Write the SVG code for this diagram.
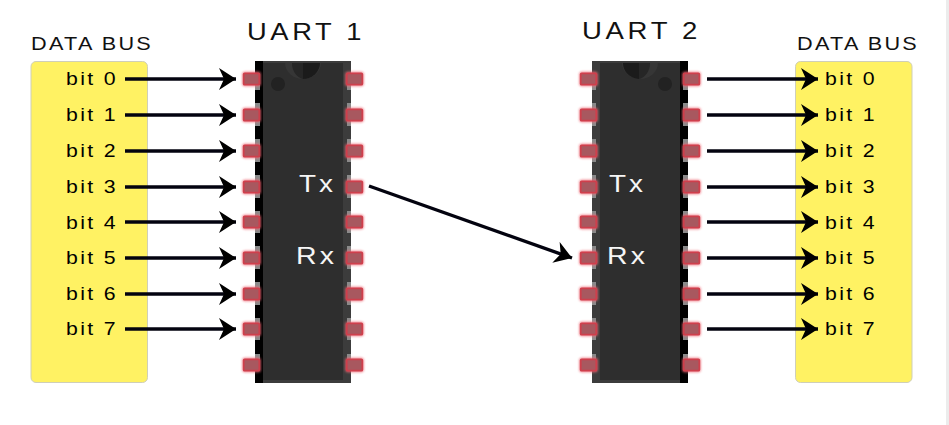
<svg xmlns="http://www.w3.org/2000/svg" width="949" height="425" viewBox="0 0 949 425">
  <style>
    text { font-family: "Liberation Sans", Arial, sans-serif; }
    .bus { fill: #fff263; stroke: #cfcfb8; stroke-width: 1; }
    .bit { font-size: 18px; letter-spacing: 2px; fill: #000; }
    .bus-title { font-size: 18px; letter-spacing: 1.9px; fill: #111; }
    .uart { font-size: 24px; letter-spacing: 3.2px; fill: #111; }
    .sig { font-size: 24px; letter-spacing: 2.6px; fill: #f6f6f6; }
    .wire { stroke: #03030f; stroke-width: 3.4; fill: none; marker-end: url(#head); }
    .pad { fill: #a8585f; stroke: #cf3f4c; stroke-width: 1.8; }
    .halo { fill: #ee6c78; opacity: .7; filter: url(#glow); }
  </style>
  <defs>
    <marker id="head" markerUnits="userSpaceOnUse" markerWidth="20" markerHeight="24" refX="17" refY="11" orient="auto">
      <path d="M0 0 L17 11 L0 22 L5 11 Z" fill="#000"/>
    </marker>
    <filter id="glow" x="-30%" y="-40%" width="160%" height="180%">
      <feGaussianBlur stdDeviation="1"/>
    </filter>
    <g id="pad">
      <rect class="halo" x="-9.500" y="-7.500" width="19" height="15" rx="3"/>
      <rect class="pad" x="-7.800" y="-5.700" width="15.600" height="11.400" rx="1"/>
    </g>
  </defs>

  <rect width="949" height="425" fill="#fff"/>
  <rect x="946" y="0" width="3" height="425" fill="#ececec"/>

  <g id="bus-left">
    <rect class="bus" x="31" y="61.500" width="116.500" height="321" rx="5"/>
    <text class="bus-title" x="31" y="50" textLength="122" lengthAdjust="spacingAndGlyphs">DATA BUS</text>
    <text class="bit" x="66" y="85" textLength="52" lengthAdjust="spacingAndGlyphs">bit 0</text>
    <text class="bit" x="66" y="121" textLength="52" lengthAdjust="spacingAndGlyphs">bit 1</text>
    <text class="bit" x="66" y="157" textLength="52" lengthAdjust="spacingAndGlyphs">bit 2</text>
    <text class="bit" x="66" y="193" textLength="52" lengthAdjust="spacingAndGlyphs">bit 3</text>
    <text class="bit" x="66" y="229" textLength="52" lengthAdjust="spacingAndGlyphs">bit 4</text>
    <text class="bit" x="66" y="264" textLength="52" lengthAdjust="spacingAndGlyphs">bit 5</text>
    <text class="bit" x="66" y="300" textLength="52" lengthAdjust="spacingAndGlyphs">bit 6</text>
    <text class="bit" x="66" y="335" textLength="52" lengthAdjust="spacingAndGlyphs">bit 7</text>
  </g>

  <g id="uart-1">
    <text class="uart" x="247" y="40" textLength="118" lengthAdjust="spacingAndGlyphs">UART 1</text>
    <rect x="255" y="61" width="96" height="322" fill="#000"/>
    <rect x="263" y="61" width="88" height="322" fill="#3c3c3c"/>
    <rect x="263" y="63" width="80" height="317" fill="#2e2e2e"/>
    <!-- keyway notch at the top edge -->
    <path d="M285 63 A18 16 0 0 0 321 63 Z" fill="#363636"/>
    <path d="M292 63 A14 16 0 0 0 303 79 L303 63 Z" fill="#262626"/>
    <path d="M303 63 L303 79 A17 16 0 0 0 320 63 Z" fill="#1b1b1b"/>
    <circle cx="278" cy="84" r="7" fill="#222"/>
    <g fill="#8a8a8a">
      <rect x="255" y="85" width="5" height="5"/><rect x="255" y="103" width="5" height="7"/>
      <rect x="255" y="121" width="5" height="5"/><rect x="255" y="139" width="5" height="7"/>
      <rect x="255" y="157" width="5" height="5"/><rect x="255" y="175" width="5" height="7"/>
      <rect x="255" y="193" width="5" height="5"/><rect x="255" y="211" width="5" height="5"/>
      <rect x="255" y="228" width="5" height="5"/><rect x="255" y="246" width="5" height="7"/>
      <rect x="255" y="264" width="5" height="5"/><rect x="255" y="282" width="5" height="7"/>
      <rect x="255" y="300" width="5" height="5"/><rect x="255" y="318" width="5" height="6"/>
      <rect x="255" y="335" width="5" height="5"/><rect x="255" y="354" width="5" height="6"/>
      <rect x="347" y="85" width="4" height="5"/><rect x="347" y="103" width="4" height="7"/>
      <rect x="347" y="121" width="4" height="5"/><rect x="347" y="139" width="4" height="7"/>
      <rect x="347" y="157" width="4" height="5"/><rect x="347" y="175" width="4" height="7"/>
      <rect x="347" y="193" width="4" height="5"/><rect x="347" y="211" width="4" height="5"/>
      <rect x="347" y="228" width="4" height="5"/><rect x="347" y="246" width="4" height="7"/>
      <rect x="347" y="264" width="4" height="5"/><rect x="347" y="282" width="4" height="7"/>
      <rect x="347" y="300" width="4" height="5"/><rect x="347" y="318" width="4" height="6"/>
      <rect x="347" y="335" width="4" height="5"/><rect x="347" y="354" width="4" height="6"/>
    </g>
    <use href="#pad" x="251.500" y="79"/><use href="#pad" x="251.500" y="115"/><use href="#pad" x="251.500" y="151"/>
    <use href="#pad" x="251.500" y="187"/><use href="#pad" x="251.500" y="222"/><use href="#pad" x="251.500" y="258"/>
    <use href="#pad" x="251.500" y="294"/><use href="#pad" x="251.500" y="329"/><use href="#pad" x="251.500" y="365"/>
    <use href="#pad" x="354.500" y="79"/><use href="#pad" x="354.500" y="115"/><use href="#pad" x="354.500" y="151"/>
    <use href="#pad" x="354.500" y="187"/><use href="#pad" x="354.500" y="222"/><use href="#pad" x="354.500" y="258"/>
    <use href="#pad" x="354.500" y="294"/><use href="#pad" x="354.500" y="329"/><use href="#pad" x="354.500" y="365"/>
    <text class="sig" x="299" y="192" textLength="37" lengthAdjust="spacingAndGlyphs">Tx</text>
    <text class="sig" x="296" y="264" textLength="41" lengthAdjust="spacingAndGlyphs">Rx</text>
  </g>

  <g id="uart-2">
    <text class="uart" x="582" y="39" textLength="119" lengthAdjust="spacingAndGlyphs">UART 2</text>
    <rect x="592" y="61" width="96" height="322" fill="#000"/>
    <rect x="592" y="61" width="88" height="322" fill="#3c3c3c"/>
    <rect x="600" y="63" width="80" height="317" fill="#2e2e2e"/>
    <!-- keyway notch at the top edge -->
    <path d="M622 63 A18 16 0 0 0 658 63 Z" fill="#363636"/>
    <path d="M623 63 A17 16 0 0 0 639 79 L639 63 Z" fill="#1b1b1b"/>
    <path d="M639 63 L639 79 A14 16 0 0 0 650 63 Z" fill="#262626"/>
    <circle cx="665" cy="84" r="7" fill="#222"/>
    <g fill="#8a8a8a">
      <rect x="592" y="85" width="4" height="5"/><rect x="592" y="103" width="4" height="7"/>
      <rect x="592" y="121" width="4" height="5"/><rect x="592" y="139" width="4" height="7"/>
      <rect x="592" y="157" width="4" height="5"/><rect x="592" y="175" width="4" height="7"/>
      <rect x="592" y="193" width="4" height="5"/><rect x="592" y="211" width="4" height="5"/>
      <rect x="592" y="228" width="4" height="5"/><rect x="592" y="246" width="4" height="7"/>
      <rect x="592" y="264" width="4" height="5"/><rect x="592" y="282" width="4" height="7"/>
      <rect x="592" y="300" width="4" height="5"/><rect x="592" y="318" width="4" height="6"/>
      <rect x="592" y="335" width="4" height="5"/><rect x="592" y="354" width="4" height="6"/>
      <rect x="683" y="85" width="5" height="5"/><rect x="683" y="103" width="5" height="7"/>
      <rect x="683" y="121" width="5" height="5"/><rect x="683" y="139" width="5" height="7"/>
      <rect x="683" y="157" width="5" height="5"/><rect x="683" y="175" width="5" height="7"/>
      <rect x="683" y="193" width="5" height="5"/><rect x="683" y="211" width="5" height="5"/>
      <rect x="683" y="228" width="5" height="5"/><rect x="683" y="246" width="5" height="7"/>
      <rect x="683" y="264" width="5" height="5"/><rect x="683" y="282" width="5" height="7"/>
      <rect x="683" y="300" width="5" height="5"/><rect x="683" y="318" width="5" height="6"/>
      <rect x="683" y="335" width="5" height="5"/><rect x="683" y="354" width="5" height="6"/>
    </g>
    <use href="#pad" x="588.500" y="79"/><use href="#pad" x="588.500" y="115"/><use href="#pad" x="588.500" y="151"/>
    <use href="#pad" x="588.500" y="187"/><use href="#pad" x="588.500" y="222"/><use href="#pad" x="588.500" y="258"/>
    <use href="#pad" x="588.500" y="294"/><use href="#pad" x="588.500" y="329"/><use href="#pad" x="588.500" y="365"/>
    <use href="#pad" x="691.500" y="79"/><use href="#pad" x="691.500" y="115"/><use href="#pad" x="691.500" y="151"/>
    <use href="#pad" x="691.500" y="187"/><use href="#pad" x="691.500" y="222"/><use href="#pad" x="691.500" y="258"/>
    <use href="#pad" x="691.500" y="294"/><use href="#pad" x="691.500" y="329"/><use href="#pad" x="691.500" y="365"/>
    <text class="sig" x="609" y="192" textLength="37" lengthAdjust="spacingAndGlyphs">Tx</text>
    <text class="sig" x="607" y="264" textLength="41" lengthAdjust="spacingAndGlyphs">Rx</text>
  </g>

  <g id="bus-right">
    <rect class="bus" x="795.500" y="61.500" width="116.500" height="321" rx="5"/>
    <text class="bus-title" x="797" y="50" textLength="122" lengthAdjust="spacingAndGlyphs">DATA BUS</text>
    <text class="bit" x="825" y="85" textLength="52" lengthAdjust="spacingAndGlyphs">bit 0</text>
    <text class="bit" x="825" y="121" textLength="52" lengthAdjust="spacingAndGlyphs">bit 1</text>
    <text class="bit" x="825" y="157" textLength="52" lengthAdjust="spacingAndGlyphs">bit 2</text>
    <text class="bit" x="825" y="193" textLength="52" lengthAdjust="spacingAndGlyphs">bit 3</text>
    <text class="bit" x="825" y="229" textLength="52" lengthAdjust="spacingAndGlyphs">bit 4</text>
    <text class="bit" x="825" y="264" textLength="52" lengthAdjust="spacingAndGlyphs">bit 5</text>
    <text class="bit" x="825" y="300" textLength="52" lengthAdjust="spacingAndGlyphs">bit 6</text>
    <text class="bit" x="825" y="335" textLength="52" lengthAdjust="spacingAndGlyphs">bit 7</text>
  </g>

  <g id="connectors">
    <line class="wire" x1="125" y1="79" x2="236" y2="79"/>
    <line class="wire" x1="125" y1="115" x2="236" y2="115"/>
    <line class="wire" x1="125" y1="151" x2="236" y2="151"/>
    <line class="wire" x1="125" y1="187" x2="236" y2="187"/>
    <line class="wire" x1="125" y1="222" x2="236" y2="222"/>
    <line class="wire" x1="125" y1="258" x2="236" y2="258"/>
    <line class="wire" x1="125" y1="294" x2="236" y2="294"/>
    <line class="wire" x1="125" y1="329" x2="236" y2="329"/>
    <line class="wire" x1="369" y1="186" x2="572" y2="258"/>
    <line class="wire" x1="707" y1="79" x2="818" y2="79"/>
    <line class="wire" x1="707" y1="115" x2="818" y2="115"/>
    <line class="wire" x1="707" y1="151" x2="818" y2="151"/>
    <line class="wire" x1="707" y1="187" x2="818" y2="187"/>
    <line class="wire" x1="707" y1="222" x2="818" y2="222"/>
    <line class="wire" x1="707" y1="258" x2="818" y2="258"/>
    <line class="wire" x1="707" y1="294" x2="818" y2="294"/>
    <line class="wire" x1="707" y1="329" x2="818" y2="329"/>
  </g>
</svg>
